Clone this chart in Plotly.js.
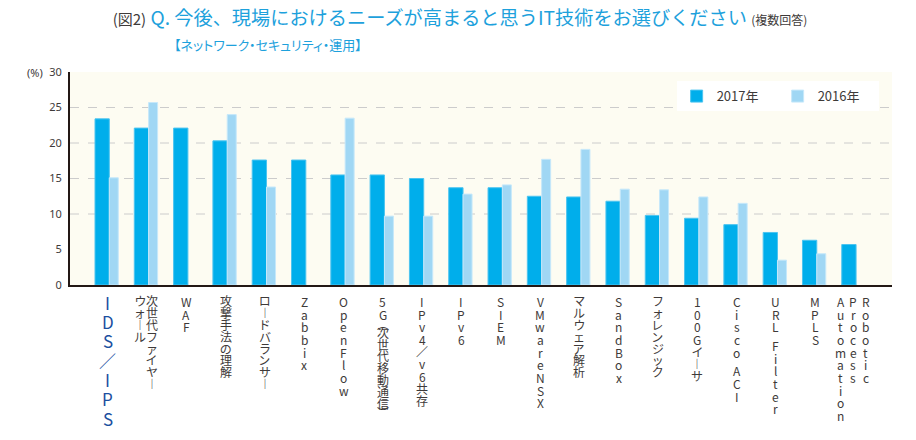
<!DOCTYPE html>
<html>
<head>
<meta charset="utf-8">
<script src="https://cdn.plot.ly/plotly-3.0.1.min.js"></script>
<style>
  html, body { margin: 0; padding: 0; background: #ffffff; }
  #chart { width: 916px; height: 440px; }
  text.annotation-text { font-feature-settings: "palt"; }
</style>
</head>
<body>
<div id="chart"></div>
<script>
// ---- data ----
const categories = ["IDS/IPS", "次世代ファイヤーウォール", "WAF", "攻撃手法の理解", "ロードバランサー",
  "Zabbix", "OpenFlow", "5G（次世代移動通信）", "IPv4/v6共存", "IPv6", "SIEM", "VMware NSX",
  "マルウェア解析", "SandBox", "フォレンジック", "100Gイーサ", "Cisco ACI", "URL Filter", "MPLS",
  "Robotic Process Automation"];
const y2017 = [23.4, 22.1, 22.1, 20.3, 17.6, 17.6, 15.5, 15.5, 15.0, 13.7, 13.7, 12.5, 12.4, 11.8, 9.8, 9.4, 8.5, 7.4, 6.3, 5.7];
const y2016 = [15.1, 25.7, null, 24.0, 13.8, null, 23.5, 9.7, 9.7, 12.8, 14.1, 17.7, 19.1, 13.5, 13.4, 12.4, 11.5, 3.5, 4.4, null];
const seriesNames = ["2017年", "2016年"];
const yTicks = [0, 5, 10, 15, 20, 25, 30];
const gridValues = [10, 15, 20, 25];
// vertical (tategaki) rendition of each category label, columns from right to left
const labelColumns = [
  ["IDS／IPS"], ["次世代ファイヤー", "ウォール"], ["WAF"], ["攻撃手法の理解"], ["ロードバランサー"],
  ["Zabbix"], ["OpenFlow"], ["5G︵次世代移動通信︶"], ["IPv4／v6共存"], ["IPv6"], ["SIEM"],
  ["VMwareNSX"], ["マルウェア解析"], ["SandBox"], ["フォレンジック"], ["100Gイーサ"], ["Cisco ACI"],
  ["URL Filter"], ["MPLS"], ["Robotic", "Process", "Automation"]
];
const titleLine1 = "Q. 今後、現場におけるニーズが高まると思うIT技術をお選びください";
const titleLine2 = "【ネットワーク・セキュリティ・運用】";

// ---- styling ----
const C2017 = "#00aeeb", C2016 = "#a0d7f4";
const TXT = "#3e3a39", CYAN = "#1da1dc", AXIS = "#231815";
const JP = "Noto Sans CJK JP, sans-serif";

const traces = [
  { type: "bar", name: seriesNames[0], x: categories, y: y2017,
    width: 0.364, offset: -0.298,
    marker: { color: C2017, line: { color: "#4cc4f0", width: 1 } }, hoverinfo: "x+y" },
  { type: "bar", name: seriesNames[1], x: categories, y: y2016,
    width: 0.229, offset: 0.066,
    marker: { color: C2016, line: { color: "#c6e8fa", width: 1 } }, hoverinfo: "x+y" }
];

const plotTop = 72, plotBottom = 285, plotH = plotBottom - plotTop;
const annotations = [];

annotations.push({ xref: "paper", yref: "paper", x: -0.043, y: 1.0, xanchor: "center", yanchor: "middle",
  text: "(%)", showarrow: false, font: { family: "Noto Sans, sans-serif", size: 11, color: TXT } });
annotations.push({ xref: "paper", yref: "paper", x: 0.124, y: (plotBottom - 45) / plotH, xanchor: "left", yanchor: "middle",
  text: titleLine2, showarrow: false, font: { family: JP, size: 13, color: CYAN } });

function adv(ch) {
  if (ch === " ") return 6;
  if (ch === "︵" || ch === "︶") return 6;
  if (ch.charCodeAt(0) >= 0x3000) return 11.8;
  return 12.7;
}
// vertical labels: one upright character per row, columns read right to left
labelColumns.forEach((cols, i) => {
  const n = cols.length;
  const offs = n === 1 ? [1] : (n === 2 ? [5.5, -6] : [12.5, 0, -12.5]);
  cols.forEach((col, j) => {
    const isBig = i === 0;
    let pos = isBig ? 292.7 : 295;
    for (const raw of col) {
      const ch = raw === "ー" ? "︱" : raw;
      const a = isBig ? 19.3 : adv(ch);
      const cy = pos + a / 2;
      pos += a;
      if (ch === " ") continue;
      annotations.push({ xref: "x", yref: "paper", x: i, y: 0, xshift: offs[j], yshift: -(cy - plotBottom),
        xanchor: "center", yanchor: "middle", showarrow: false, text: ch,
        font: { family: JP, size: isBig ? 17 : 12, color: isBig ? "#1b4f9f" : TXT } });
    }
  });
});

const shapes = gridValues.map(v => ({ type: "line", xref: "paper", yref: "y", x0: 0, x1: 1, y0: v, y1: v,
  layer: "below", line: { color: "#cccccc", width: 1, dash: "dash" } }));

const layout = {
  width: 916, height: 440,
  margin: { l: 70, r: 24, t: 72, b: 155, autoexpand: false },
  paper_bgcolor: "#ffffff", plot_bgcolor: "#fdfcf2",
  title: {
    text: '<span style="color:' + TXT + ';font-size:15px">(図2)</span> ' + titleLine1 +
      ' <span style="color:' + TXT + ';font-size:12px">(複数回答)</span>',
    font: { family: JP, size: 19.2, color: CYAN },
    xref: "container", yref: "container", x: 0.123, xanchor: "left", y: 1 - 18 / 440, yanchor: "middle"
  },
  barmode: "overlay",
  xaxis: { type: "category", range: [-0.934, 19.98], showticklabels: false, ticks: "", showgrid: false,
    zeroline: false, showline: true, linecolor: AXIS, linewidth: 2, fixedrange: true },
  yaxis: { range: [0, 30], tickvals: yTicks, ticks: "", showgrid: false, zeroline: false,
    showline: true, linecolor: AXIS, linewidth: 2, ticklabelstandoff: 4,
    tickfont: { family: "Noto Sans, sans-serif", size: 11, color: TXT }, fixedrange: true },
  legend: { orientation: "h", x: 0.738, y: 0.957, xanchor: "left", yanchor: "top", bgcolor: "#ffffff",
    font: { family: JP, size: 13, color: TXT }, traceorder: "normal", entrywidth: 56, entrywidthmode: "pixels" },
  showlegend: true,
  shapes: shapes,
  annotations: annotations
};

Plotly.newPlot("chart", traces, layout, { displayModeBar: false, staticPlot: true });
</script>
</body>
</html>
